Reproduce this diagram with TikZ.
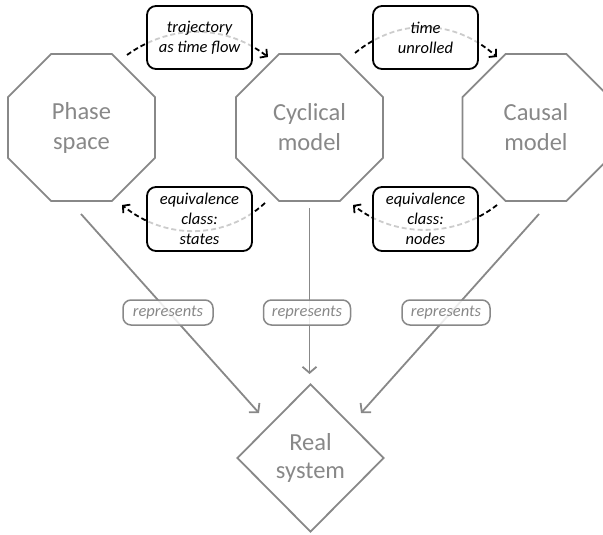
\documentclass[tikz,border=0pt]{standalone}
\usepackage{fontspec}
\setmainfont{Carlito}
\usetikzlibrary{shapes.geometric,arrows.meta}
\definecolor{shapegray}{HTML}{888888}
\tikzset{
  octa/.style={regular polygon, regular polygon sides=8, minimum size=159pt, inner sep=0pt,
    draw=shapegray, line width=1.8pt, text=shapegray, align=center,
    font=\fontsize{24.5}{30}\selectfont},
  realbox/.style={diamond, minimum width=147pt, minimum height=148pt, inner sep=0pt,
    draw=shapegray, line width=1.8pt, text=shapegray, align=center,
    font=\fontsize{24.5}{28}\selectfont},
  relbox/.style={rectangle, rounded corners=9pt, draw=black, line width=1.8pt,
    minimum width=105pt, inner sep=0pt, fill=white, fill opacity=0.8, text opacity=1,
    draw opacity=1, align=center, font=\fontsize{16.5}{20}\selectfont\itshape},
  repbox/.style={rectangle, rounded corners=8pt, draw=shapegray, line width=1.5pt,
    minimum height=25pt, inner sep=0pt, fill=white, fill opacity=0.85, text opacity=1,
    draw opacity=1, text=shapegray, font=\fontsize{16.5}{20}\selectfont\itshape},
  dasharc/.style={draw=black, line width=1.8pt, dash pattern=on 5pt off 3pt,
    -{Straight Barb[length=5pt,width=11pt]}},
  grayarrow/.style={draw=shapegray, line width=1.8pt,
    -{Straight Barb[length=6pt,width=14pt]}},
}
\begin{document}
\begin{tikzpicture}[x=1pt,y=-1pt]
\useasboundingbox (0,0) rectangle (603,535);
% main shapes
\node[octa] (ps) at (81.5,127.5) {Phase\\space};
\node[octa] (cm) at (309.5,127.5) {Cyclical\\model};
\node[octa] (ca) at (536,127.5) {Causal\\model};
\node[realbox] (rs) at (310.5,458) {Real\\system};
% arc end points
\coordinate (a1s) at (127,55);
\coordinate (a1e) at (268,57);
\coordinate (a2s) at (355,53);
\coordinate (a2e) at (497,57);
\coordinate (a3s) at (265,203);
\coordinate (a3e) at (122,205);
\coordinate (a4s) at (497,205);
\coordinate (a4e) at (353,205);
% dashed arcs
\draw[dasharc] (a1s) .. controls (170,24) and (225,24) .. (a1e);
\draw[dasharc] (a2s) .. controls (398,18) and (453,18) .. (a2e);
\draw[dasharc] (a3s) .. controls (225,240) and (165,240) .. (a3e);
\draw[dasharc] (a4s) .. controls (455,238) and (395,238) .. (a4e);
% relation boxes
\node[relbox, minimum height=63pt] (b1) at (199.5,37.5) {trajectory\\as time flow};
\node[relbox, minimum height=63pt] (b2) at (425.5,37.5) {time\\unrolled};
\node[relbox, minimum height=64pt] (b3) at (199.5,219) {equivalence\\class:\\states};
\node[relbox, minimum height=64pt] (b4) at (425.5,219) {equivalence\\class:\\nodes};
% represents arrows
\coordinate (r1s) at (81,214);
\coordinate (r1e) at (259,413);
\coordinate (r2s) at (309.5,208);
\coordinate (r2e) at (309.5,374);
\coordinate (r3s) at (539,214);
\coordinate (r3e) at (361,413);
\draw[grayarrow] (r1s) -- (r1e);
\draw[grayarrow] (r2s) -- (r2e);
\draw[grayarrow] (r3s) -- (r3e);
\node[repbox, minimum width=90pt] (l1) at (168,312.5) {represents};
\node[repbox, minimum width=87pt] (l2) at (307,312.5) {represents};
\node[repbox, minimum width=88pt] (l3) at (446,312.5) {represents};
\end{tikzpicture}
\end{document}
